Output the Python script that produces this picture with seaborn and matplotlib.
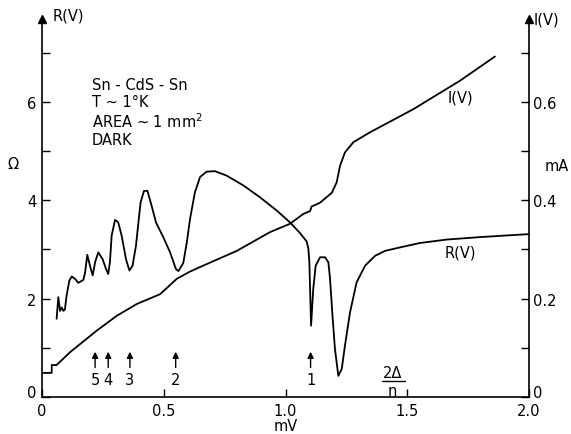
import matplotlib
matplotlib.use("Agg")
import matplotlib.pyplot as plt
from matplotlib.transforms import ScaledTranslation
import seaborn as sns

# Differential resistance R(V), ohms, versus bias in mV
r_volts = [0.060, 0.067, 0.074, 0.081, 0.088, 0.094, 0.101, 0.112, 0.122, 0.136,
           0.149, 0.170, 0.177, 0.186, 0.197, 0.208, 0.218, 0.231, 0.249, 0.263,
           0.272, 0.279, 0.286, 0.300, 0.313, 0.327, 0.345, 0.359, 0.372, 0.386,
           0.396, 0.405, 0.419, 0.433, 0.450, 0.468, 0.498, 0.526, 0.550, 0.560,
           0.580, 0.595, 0.608, 0.628, 0.649, 0.676, 0.710, 0.758, 0.827, 0.895,
           0.964, 1.018, 1.060, 1.087, 1.094, 1.098, 1.105, 1.114, 1.124, 1.142,
           1.162, 1.176, 1.183, 1.192, 1.203, 1.217, 1.231, 1.244, 1.265, 1.292,
           1.327, 1.368, 1.409, 1.470, 1.552, 1.662, 1.799, 1.997]
r_ohms = [1.59, 2.03, 1.75, 1.82, 1.75, 1.78, 2.06, 2.36, 2.45, 2.40,
          2.32, 2.38, 2.53, 2.89, 2.67, 2.47, 2.74, 2.94, 2.80, 2.60,
          2.50, 2.74, 3.28, 3.60, 3.55, 3.28, 2.80, 2.57, 2.67, 3.08,
          3.55, 3.96, 4.19, 4.19, 3.89, 3.55, 3.25, 2.94, 2.60, 2.56,
          2.72, 3.15, 3.62, 4.16, 4.47, 4.58, 4.59, 4.50, 4.30, 4.06,
          3.79, 3.55, 3.33, 3.16, 3.01, 2.74, 1.45, 2.20, 2.67, 2.84,
          2.84, 2.74, 2.40, 1.72, 0.98, 0.43, 0.57, 1.04, 1.72, 2.33,
          2.67, 2.87, 2.97, 3.04, 3.13, 3.20, 3.25, 3.31]

# Current I(V), mA
i_volts = [0.0, 0.04, 0.04, 0.06, 0.115, 0.225, 0.307, 0.389, 0.485, 0.553,
           0.608, 0.662, 0.800, 0.936, 1.018, 1.073, 1.101, 1.107, 1.142, 1.190,
           1.210, 1.224, 1.244, 1.279, 1.347, 1.525, 1.717, 1.860]
i_ma = [0.049, 0.049, 0.065, 0.065, 0.091, 0.135, 0.165, 0.189, 0.209, 0.240,
        0.255, 0.267, 0.297, 0.335, 0.352, 0.372, 0.378, 0.387, 0.395, 0.415,
        0.436, 0.470, 0.497, 0.518, 0.538, 0.585, 0.643, 0.692]

# Subharmonic gap structure 2Δ/n
gap_n = ["5", "4", "3", "2", "1"]
gap_volts = [0.218, 0.272, 0.361, 0.549, 1.103]

x_ticks = [0, 0.5, 1.0, 1.5, 2.0]
x_tick_labels = ["0", "0.5", "1.0", "1.5", "2.0"]
r_ticks = [0, 2, 4, 6]
i_ticks = [0, 0.2, 0.4, 0.6]
i_tick_labels = ["0", "0.2", "0.4", "0.6"]

sns.set_style("ticks")
plt.rcParams["font.family"] = ["DejaVu Sans"]
plt.rcParams["mathtext.fontset"] = "dejavusans"
for key in ("text.color", "axes.labelcolor", "xtick.color", "ytick.color",
            "axes.edgecolor"):
    plt.rcParams[key] = "black"

W, H = 571, 435
fig = plt.figure(figsize=(W / 100, H / 100), dpi=100)
x0, x1, y0, ytop = 42, 529, 398, 20
ax = fig.add_axes([x0 / W, (H - y0) / H, (x1 - x0) / W, (y0 - ytop) / H])
r_top = (y0 - ytop) / 49.2
ax.set_xlim(0, 2.0)
ax.set_ylim(0, r_top)

ax2 = ax.twinx()
ax2.set_ylim(0, r_top / 10)

lw = 1.3
sns.lineplot(x=r_volts, y=r_ohms, ax=ax, color="black", lw=lw,
             estimator=None, sort=False)
sns.lineplot(x=i_volts, y=i_ma, ax=ax2, color="black", lw=lw,
             estimator=None, sort=False)

fs = 10.5
for a in (ax, ax2):
    for s in a.spines.values():
        s.set_linewidth(1.2)
        s.set_color("black")
    a.spines["top"].set_visible(False)

ax.spines["right"].set_visible(False)
ax2.spines["left"].set_visible(False)
ax2.spines["bottom"].set_visible(False)

ax.set_xticks(x_ticks)
ax.set_xticklabels(x_tick_labels)
ax.set_yticks(r_ticks)
ax.set_yticks([1, 3, 5, 7], minor=True)
ax.tick_params(axis="both", which="major", direction="in", length=6, width=1,
               labelsize=fs, pad=4, colors="black")
ax.tick_params(axis="y", which="minor", direction="in", length=6, width=1,
               colors="black")
ax.tick_params(axis="x", which="minor", bottom=False)

ax2.set_yticks(i_ticks)
ax2.set_yticklabels(i_tick_labels)
ax2.set_yticks([0.1, 0.3, 0.5, 0.7], minor=True)
ax2.tick_params(axis="y", which="major", direction="in", length=6, width=1,
                labelsize=fs, pad=3, colors="black")
ax2.tick_params(axis="y", which="minor", direction="in", length=6, width=1,
                colors="black")

# lift the two "0" labels on the vertical axes above the corner
lift = ScaledTranslation(0, 4 / 72, fig.dpi_scale_trans)
for lab in (ax.get_yticklabels()[0], ax2.get_yticklabels()[0]):
    lab.set_transform(lab.get_transform() + lift)

ax.set_xlabel("")
ax.set_ylabel("")
ax2.set_ylabel("")
ax.text(1.0, -0.58, "mV", fontsize=fs, ha="center", va="center")
ax.text(-0.12, 4.75, "Ω", fontsize=fs, ha="center", va="center")
ax.text(2.115, 4.70, "mA", fontsize=fs, ha="center", va="center", clip_on=False)

# arrowheads on the two vertical axes
for xa, a, ymax in ((0.0, ax, r_top), (2.0, ax2, r_top / 10)):
    a.plot([xa], [ymax], marker="^", color="black", markersize=6,
           clip_on=False, zorder=5)
ax.text(0.045, r_top + 0.08, "R(V)", fontsize=fs, ha="left", va="center")
ax.text(2.02, r_top, "I(V)", fontsize=fs, ha="left", va="center")

# curve labels
ax.text(1.717, 2.95, "R(V)", fontsize=fs, ha="center", va="center")
ax.text(1.717, 6.10, "I(V)", fontsize=fs, ha="center", va="center")

ax.text(0.205, 6.50, "Sn - CdS - Sn\nT ~ 1°K\nAREA ~ 1 mm$^2$\nDARK",
        fontsize=fs, ha="left", va="top", linespacing=1.15)

for lab, xv in zip(gap_n, gap_volts):
    ax.annotate("", xy=(xv, 0.92), xytext=(xv, 0.60),
                arrowprops=dict(arrowstyle="-|>", color="black", lw=1.0,
                                mutation_scale=9, shrinkA=0, shrinkB=0))
    ax.text(xv, 0.35, lab, fontsize=fs, ha="center", va="center")

ax.text(1.44, 0.50, "2Δ", fontsize=fs, ha="center", va="center")
ax.plot([1.395, 1.49], [0.32, 0.32], color="black", lw=1.0)
ax.text(1.44, 0.14, "n", fontsize=fs, ha="center", va="center")

fig.savefig("out.png", dpi=100)
